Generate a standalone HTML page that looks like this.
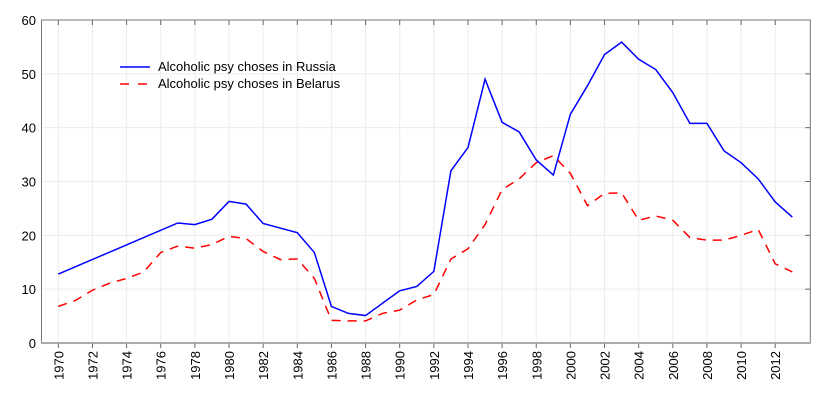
<!DOCTYPE html>
<html><head><meta charset="utf-8"><style>
html,body{margin:0;padding:0;background:#fff;}
svg{display:block;font-family:"Liberation Sans",Arial,sans-serif;}
</style></head><body>
<svg id="c" width="829" height="403" xmlns="http://www.w3.org/2000/svg"></svg>
<script>
const s=document.getElementById('c');
const X=y=>58.3+17.07*(y-1970), Y=v=>343-v*5.383;
let h='';
const L=41.5,R=810.3,T=20,B=343;
for(let v=10;v<60;v+=10){h+=`<line x1="${L}" x2="${R}" y1="${Y(v)}" y2="${Y(v)}" stroke="#ececec"/>`;
 h+=`<line x1="${R-5}" x2="${R}" y1="${Y(v)}" y2="${Y(v)}" stroke="#666"/>`;}
for(let y=1970;y<=2012;y+=2){const x=X(y);h+=`<line x1="${x}" x2="${x}" y1="${T}" y2="${B}" stroke="#ececec"/>`;
 h+=`<line x1="${x}" x2="${x}" y1="${T}" y2="${T+5}" stroke="#666"/><line x1="${x}" x2="${x}" y1="${B}" y2="${B+5}" stroke="#666"/>`;
 h+=`<text transform="translate(${x+5},351) rotate(-90)" text-anchor="end" font-size="13" fill="#000">${y}</text>`;}
for(let v=0;v<=60;v+=10){h+=`<text x="36" y="${Y(v)+5}" text-anchor="end" font-size="13">${v}</text>`;}
h+=`<rect x="${L}" y="${T}" width="${R-L}" height="${B-T}" fill="none" stroke="#777" stroke-width="1"/>`;
h+=`<line x1="${L}" x2="${R}" y1="${B}" y2="${B}" stroke="#aaa" stroke-width="2"/>`;
const r=[[1970,12.8],[1977,22.3],[1978,22],[1979,23],[1980,26.3],[1981,25.8],[1982,22.2],[1984,20.5],[1985,16.8],[1986,6.8],[1987,5.5],[1988,5.1],[1990,9.7],[1991,10.5],[1992,13.3],[1993,32],[1994,36.3],[1995,49],[1996,41],[1997,39.2],[1998,34],[1999,31.2],[2000,42.5],[2001,47.8],[2002,53.6],[2003,55.9],[2004,52.7],[2005,50.8],[2006,46.5],[2007,40.8],[2008,40.8],[2009,35.7],[2010,33.5],[2011,30.5],[2012,26.2],[2013,23.4]];
const b=[6.8,7.9,9.8,11.1,12.0,13.2,16.8,18.0,17.6,18.3,19.8,19.4,17,15.5,15.6,12,4.2,4.1,4.1,5.5,6.1,8,9,15.6,17.5,22,28.5,30.5,33.5,34.8,31.5,25.5,27.8,27.9,22.8,23.6,22.8,19.6,19.1,19.1,20.0,21.1,14.7,13.2];
h+=`<polyline fill="none" stroke="#ff0000" stroke-width="1.5" stroke-dasharray="9,7" points="${b.map((v,i)=>X(1970+i)+','+Y(v)).join(' ')}"/>`;
h+=`<polyline fill="none" stroke="#0000ff" stroke-width="1.5" points="${r.map(p=>X(p[0])+','+Y(p[1])).join(' ')}"/>`;
h+=`<line x1="120" x2="150" y1="67" y2="67" stroke="#0000ff" stroke-width="1.5"/><text x="158" y="71" font-size="13">Alcoholic psy choses in Russia</text>`;
h+=`<line x1="120" x2="150" y1="84" y2="84" stroke="#ff0000" stroke-width="1.5" stroke-dasharray="9,9"/><text x="158" y="88" font-size="13">Alcoholic psy choses in Belarus</text>`;
s.innerHTML=h;
</script>
</body></html>
